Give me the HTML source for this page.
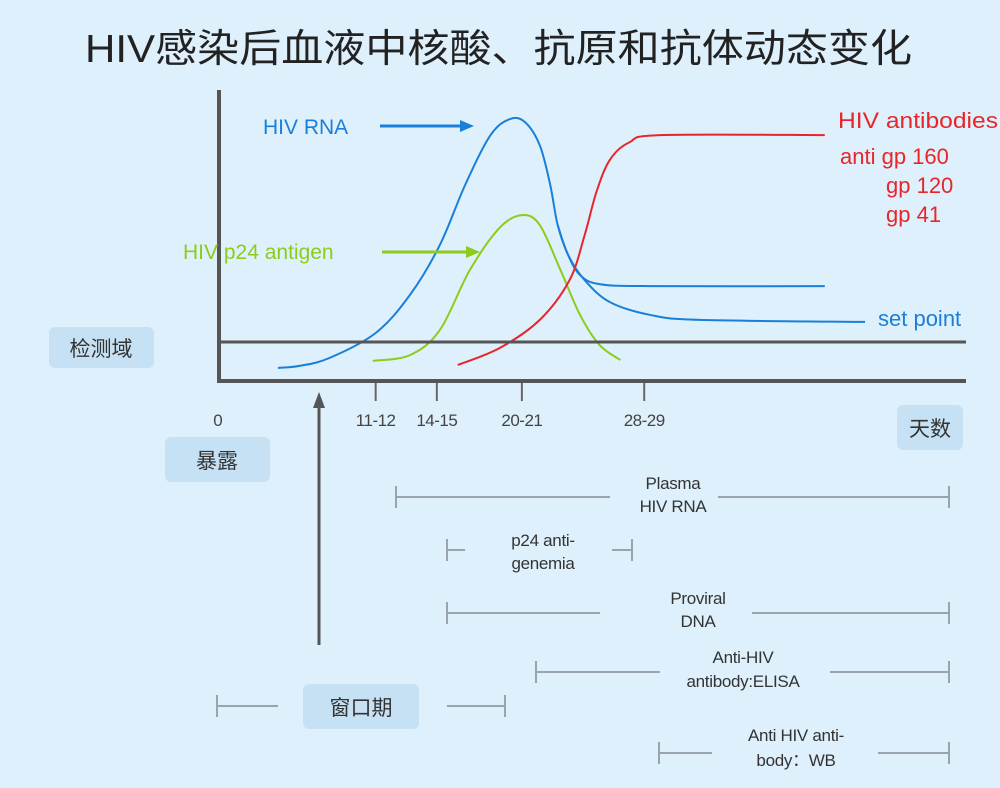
<!DOCTYPE html>
<html><head><meta charset="utf-8">
<style>
body{margin:0;background:#def0fc;}
svg{display:block;font-family:"Liberation Sans","Noto Sans CJK SC",sans-serif;}
</style></head><body>
<svg id="c" width="1000" height="788" viewBox="0 0 1000 788">
<rect width="1000" height="788" fill="#def0fc"/>
<text x="85" y="62" textLength="827" lengthAdjust="spacingAndGlyphs" font-size="39" fill="#222">HIV感染后血液中核酸、抗原和抗体动态变化</text>
<g id="marks"></g>
<line x1="219" y1="90" x2="219" y2="383" stroke="#555" stroke-width="4"/>
<line x1="217" y1="381" x2="966" y2="381" stroke="#555" stroke-width="4"/>
<line x1="219" y1="342" x2="966" y2="342" stroke="#555" stroke-width="3"/>
<g id="ticks"></g>
<text x="218" y="426" text-anchor="middle" font-size="17" fill="#444">0</text>
<text x="263" y="134" font-size="21" fill="#1a7fd8">HIV RNA</text>
<line x1="380" y1="126" x2="462" y2="126" stroke="#1a7fd8" stroke-width="3"/>
<polygon points="474,126 460,120 460,132" fill="#1a7fd8"/>
<text x="183" y="259" font-size="21" fill="#8ccc1a">HIV p24 antigen</text>
<line x1="382" y1="252" x2="468" y2="252" stroke="#8ccc1a" stroke-width="3"/>
<polygon points="480,252 466,246 466,258" fill="#8ccc1a"/>
<g font-size="22" fill="#e8262a">
<text x="838" y="128" textLength="160" lengthAdjust="spacingAndGlyphs">HIV antibodies</text>
<text x="840" y="164">anti gp 160</text>
<text x="886" y="193">gp 120</text>
<text x="886" y="222">gp 41</text>
</g>
<text x="878" y="326" font-size="22" fill="#1a7fd8">set point</text>
<rect x="49" y="327" width="105" height="41" rx="6" fill="#c6e1f4"/>
<text x="101" y="356" text-anchor="middle" font-size="21" fill="#333">检测域</text>
<rect x="165" y="437" width="105" height="45" rx="6" fill="#c6e1f4"/>
<text x="217" y="468" text-anchor="middle" font-size="21" fill="#333">暴露</text>
<rect x="897" y="405" width="66" height="45" rx="6" fill="#c6e1f4"/>
<text x="930" y="436" text-anchor="middle" font-size="21" fill="#333">天数</text>
<rect x="303" y="684" width="116" height="45" rx="6" fill="#c6e1f4"/>
<text x="361" y="715" text-anchor="middle" font-size="21" fill="#333">窗口期</text>
<line x1="319" y1="405" x2="319" y2="645" stroke="#555" stroke-width="3"/>
<polygon points="319,392 313,408 325,408" fill="#555"/>
<g id="ranges" stroke="#9aa4ae" stroke-width="2"></g>
<g font-size="17" fill="#333" text-anchor="middle" letter-spacing="-0.3">
<text x="673" y="489">Plasma</text><text x="673" y="512">HIV RNA</text>
<text x="543" y="546">p24 anti-</text><text x="543" y="569">genemia</text>
<text x="698" y="604">Proviral</text><text x="698" y="627">DNA</text>
<text x="743" y="663">Anti-HIV</text><text x="743" y="687">antibody:ELISA</text>
<text x="796" y="741">Anti HIV anti-</text><text x="796" y="766">body：WB</text>
</g>
</svg>
<script>
const rnaDays=[3.95,5.4,7.4,10.5,12.8,14.8,16.5,18.2,19.5,20.5,21.5,22.2,22.7,23.4,24.2,25.5,28.9,40.6];
const rnaLevels=[4.5,5.2,7.9,16.5,29.6,46.7,67.4,84.5,90,89,81,67.4,53.6,43.3,36.4,33.3,32.6,32.6];
const setDays=[22.7,23.4,24.5,26.2,28.9,32.2,43.3];
const setLevels=[53.6,43.3,34.7,27.1,22.7,21,20.3];
const p24Days=[10.3,12.8,14.8,16.8,18.8,20.3,21.5,22.9,24.2,25.5,26.9];
const p24Levels=[6.9,8.9,17.5,38,52.6,57,53.6,38,22.7,12.4,7.2];
const abDays=[16,18.8,21.5,23.5,24.5,25.3,26.2,27.5,29.6,40.6];
const abLevels=[5.5,11.3,21,34.7,50,65,76,82,84.5,84.5];
const tickDays=[10.5,14.6,20.3,28.5];
const tickLabels=["11-12","14-15","20-21","28-29"];
const X=d=>219+d*14.92, Y=v=>381-v*2.91;
const NS="http://www.w3.org/2000/svg";
function path(ds,vs){const p=ds.map((d,i)=>[X(d),Y(vs[i])]);let s=`M${p[0][0]},${p[0][1]}`;
for(let i=0;i<p.length-1;i++){const a=p[i-1]||p[i],b=p[i],c=p[i+1],e=p[i+2]||c;
s+=`C${b[0]+(c[0]-a[0])/6},${b[1]+(c[1]-a[1])/6} ${c[0]-(e[0]-b[0])/6},${c[1]-(e[1]-b[1])/6} ${c[0]},${c[1]}`;}return s;}
const marks=document.getElementById('marks');
[[rnaDays,rnaLevels,'#1a7fd8','hiv-rna-curve'],[setDays,setLevels,'#1a7fd8','set-point-curve'],[p24Days,p24Levels,'#8ccc1a','p24-curve'],[abDays,abLevels,'#e8262a','antibody-curve']].forEach(s=>{
const el=document.createElementNS(NS,'path');el.setAttribute('d',path(s[0],s[1]));el.setAttribute('fill','none');el.setAttribute('stroke',s[2]);el.setAttribute('stroke-width','2');


marks.appendChild(el);});
const tg=document.getElementById('ticks');
tickDays.forEach((d,i)=>{const l=document.createElementNS(NS,'line');l.setAttribute('x1',X(d));l.setAttribute('x2',X(d));l.setAttribute('y1',383);l.setAttribute('y2',401);l.setAttribute('stroke','#666');l.setAttribute('stroke-width','2');


tg.appendChild(l);
const t=document.createElementNS(NS,'text');t.setAttribute('x',X(d));t.setAttribute('y',426);t.setAttribute('text-anchor','middle');t.setAttribute('font-size','17');t.setAttribute('fill','#444');t.setAttribute('letter-spacing','-0.5');t.textContent=tickLabels[i];


tg.appendChild(t);});
const rg=document.getElementById('ranges');
[[396,949,497,610,718],[447,632,550,465,612],[447,949,613,600,752],[536,949,672,660,830],[217,505,706,278,447],[659,949,753,712,878]].forEach(r=>{
const s=document.createElementNS(NS,'path');
s.setAttribute('d',`M${r[0]},${r[2]-11}V${r[2]+11}M${r[1]},${r[2]-11}V${r[2]+11}M${r[0]},${r[2]}H${r[3]}M${r[4]},${r[2]}H${r[1]}`);s.setAttribute('fill','none');


rg.appendChild(s);});
</script>
</body></html>
